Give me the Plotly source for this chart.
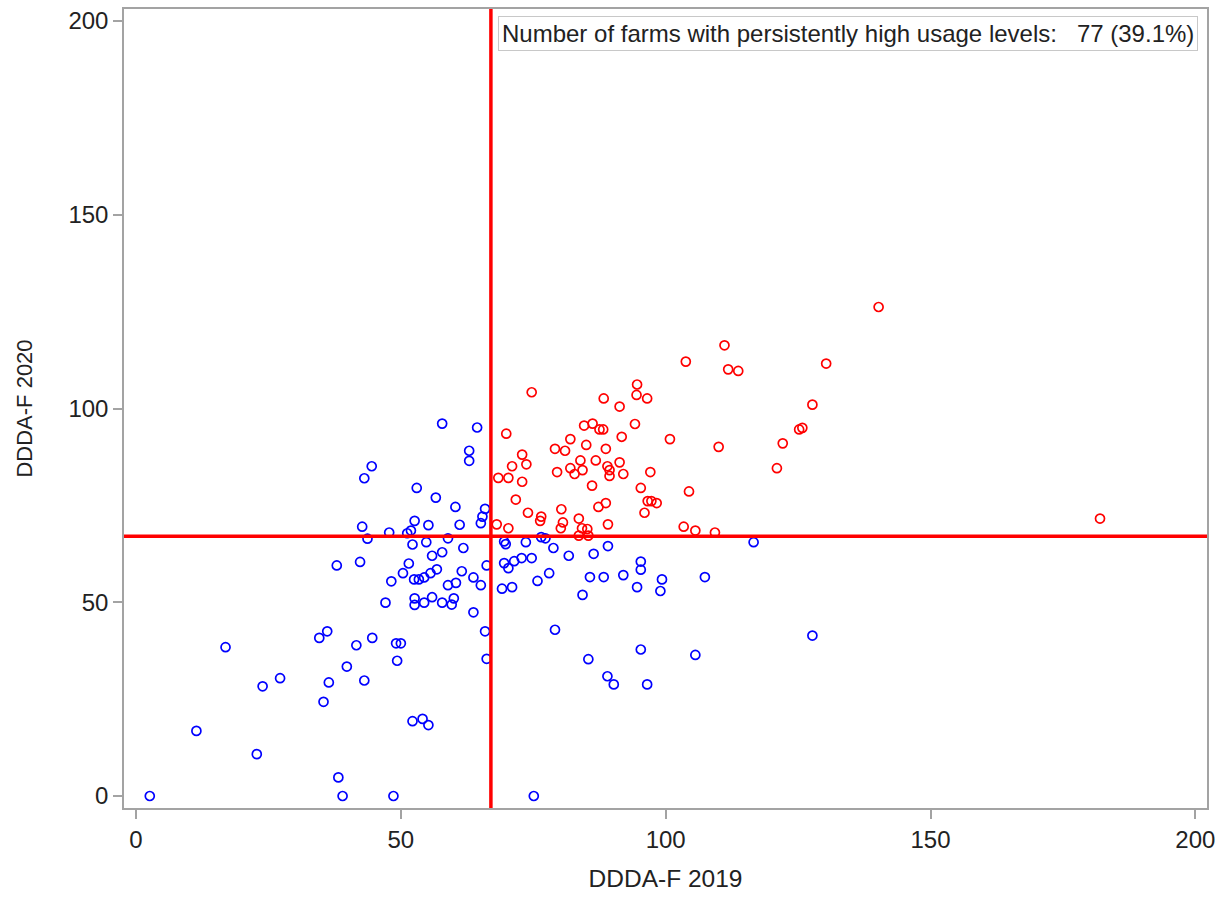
import plotly.graph_objects as go

# Antimicrobial usage (DDDA-F) per farm in 2019 and 2020.
# Farms with usage above the threshold in both years ("persistently high").
high_2019 = [140.2, 111.1, 103.8, 111.8, 113.7, 130.3, 74.7, 94.6, 94.5, 96.5,
             88.3, 91.3, 127.7, 69.9, 84.6, 86.2, 87.5, 88.2, 94.2, 125.2,
             125.8, 82.0, 91.7, 100.8, 122.1, 110.0, 79.1, 81.0, 85.0, 88.7,
             72.9, 71.0, 73.7, 83.9, 86.8, 91.3, 89.0, 89.4, 89.4, 82.0,
             79.5, 82.8, 84.3, 92.0, 97.1, 68.4, 70.3, 72.9, 86.1, 95.3,
             104.4, 71.7, 96.6, 97.3, 98.3, 74.0, 80.3, 87.3, 88.7, 96.0,
             76.5, 76.3, 83.6, 68.1, 70.3, 80.6, 80.2, 89.1, 103.4, 105.6,
             109.3, 84.2, 85.2, 83.6, 85.4, 121.0, 182.0]
high_2020 = [126.2, 116.3, 112.1, 110.1, 109.7, 111.6, 104.2, 106.2, 103.5, 102.6,
             102.6, 100.5, 101.0, 93.5, 95.6, 96.1, 94.6, 94.6, 96.0, 94.6,
             95.0, 92.1, 92.7, 92.1, 91.0, 90.1, 89.6, 89.1, 90.6, 89.6,
             88.1, 85.1, 85.6, 86.6, 86.6, 86.1, 85.1, 84.1, 82.6, 84.6,
             83.6, 83.1, 84.1, 83.1, 83.6, 82.1, 82.1, 81.1, 80.1, 79.5,
             78.6, 76.5, 76.1, 76.1, 75.6, 73.1, 74.0, 74.6, 75.6, 73.1,
             72.1, 71.0, 71.6, 70.1, 69.1, 70.6, 69.1, 70.1, 69.5, 68.5,
             68.0, 69.1, 68.9, 67.2, 67.2, 84.6, 71.6]

# All remaining farms.
other_2019 = [57.8, 64.4, 62.9, 62.9, 44.5, 43.1, 53.0, 56.6, 60.3, 65.9,
              65.4, 65.1, 61.1, 52.6, 55.2, 42.7, 47.8, 51.2, 51.9, 43.7,
              58.9, 52.2, 54.8, 61.8, 57.8, 55.9, 37.9, 42.3, 51.5, 50.4,
              48.2, 52.5, 53.4, 54.4, 55.6, 56.8, 61.5, 63.7, 65.1, 60.4,
              58.9, 66.2, 47.1, 52.6, 52.6, 54.4, 55.9, 57.8, 59.6, 60.0,
              63.7, 65.9, 66.2, 36.1, 34.6, 44.6, 41.6, 49.1, 50.0, 49.3,
              16.9, 39.8, 27.2, 23.9, 36.4, 43.1, 35.4, 52.2, 54.1, 55.2,
              11.4, 22.8, 38.2, 2.6, 39.0, 48.6,
              69.5, 69.8, 73.6, 76.5, 77.3, 78.8, 81.7, 86.4, 89.1, 116.6,
              69.5, 71.4, 72.8, 74.7, 70.3, 69.1, 71.0, 75.8, 78.0, 84.3,
              85.7, 88.3, 92.0, 95.3, 95.3, 94.6, 99.3, 99.0, 107.4, 79.1,
              95.3, 105.6, 85.4, 89.0, 90.2, 96.5, 127.7, 75.1]
other_2020 = [96.1, 95.1, 89.1, 86.5, 85.1, 82.0, 79.5, 77.0, 74.6, 74.1,
              72.1, 70.4, 70.0, 71.0, 69.9, 69.5, 68.0, 67.8, 68.5, 66.4,
              66.5, 64.9, 65.5, 64.0, 62.9, 62.0, 59.5, 60.4, 60.0, 57.5,
              55.4, 55.9, 55.9, 56.4, 57.5, 58.5, 58.0, 56.4, 54.4, 55.0,
              54.4, 59.5, 49.9, 51.0, 49.3, 49.9, 51.3, 49.9, 49.4, 51.0,
              47.4, 42.5, 35.4, 42.5, 40.8, 40.8, 38.9, 39.4, 39.4, 34.9,
              38.4, 33.4, 30.4, 28.3, 29.3, 29.8, 24.3, 19.3, 19.9, 18.3,
              16.8, 10.8, 4.8, 0.0, 0.0, 0.0,
              65.7, 65.0, 65.5, 66.8, 66.5, 64.0, 62.0, 62.5, 64.5, 65.5,
              60.1, 60.6, 61.4, 61.4, 58.8, 53.5, 53.9, 55.5, 57.5, 51.9,
              56.5, 56.5, 57.0, 60.5, 58.4, 53.9, 55.9, 52.9, 56.5, 42.9,
              37.8, 36.4, 35.3, 30.9, 28.8, 28.8, 41.4, 0.0]

threshold_2019 = 67.0
threshold_2020 = 67.0
n_farms = 197
tick_values = [0, 50, 100, 150, 200]

FONT = "Liberation Sans, Arial, sans-serif"
AXIS_GREY = "#A3A3A3"
TEXT = "#222222"

fig = go.Figure()
fig.add_trace(go.Scatter(
    x=other_2019, y=other_2020, mode="markers",
    marker=dict(symbol="circle-open", size=9, color="#0000FF",
                line=dict(width=1.7, color="#0000FF")),
    showlegend=False, hoverinfo="x+y",
))
fig.add_trace(go.Scatter(
    x=high_2019, y=high_2020, mode="markers",
    marker=dict(symbol="circle-open", size=9, color="#FF0000",
                line=dict(width=1.7, color="#FF0000")),
    showlegend=False, hoverinfo="x+y",
))

# Threshold reference lines
fig.add_shape(type="line", xref="x", yref="paper", x0=threshold_2019, x1=threshold_2019,
              y0=0, y1=1, line=dict(color="#FF0000", width=3.5), layer="above")
fig.add_shape(type="line", xref="paper", yref="y", x0=0, x1=1,
              y0=threshold_2020, y1=threshold_2020,
              line=dict(color="#FF0000", width=3.5), layer="above")

n_high = len(high_2019)
fig.add_annotation(
    xref="paper", yref="paper", x=0.992, y=0.9915, xanchor="right", yanchor="top",
    text=f"Number of farms with persistently high usage levels:   {n_high} ({100 * n_high / n_farms:.1f}%)",
    showarrow=False, align="left",
    font=dict(family=FONT, size=24, color=TEXT),
    bordercolor="#C8C8C8", borderwidth=1, borderpad=3, bgcolor="white",
)

axis_common = dict(
    showline=True, linecolor=AXIS_GREY, linewidth=1.5, mirror=True,
    ticks="outside", ticklen=9, tickwidth=1.5, tickcolor=AXIS_GREY,
    tickvals=tick_values, showgrid=False, zeroline=False,
    tickfont=dict(family=FONT, size=24, color=TEXT),
)

fig.update_xaxes(range=[-2.27, 202.2],
                 title=dict(text="DDDA-F 2019", font=dict(family=FONT, size=24.5, color=TEXT),
                            standoff=18),
                 **axis_common)
fig.update_yaxes(range=[-3.1, 203.1],
                 title=dict(text="DDDA-F 2020", font=dict(family=FONT, size=22, color=TEXT),
                            standoff=30),
                 **axis_common)

fig.update_layout(
    width=1228, height=897,
    margin=dict(l=124, r=21, t=7, b=89),
    plot_bgcolor="white", paper_bgcolor="white",
    font=dict(family=FONT),
)

fig.write_html("out.html")
